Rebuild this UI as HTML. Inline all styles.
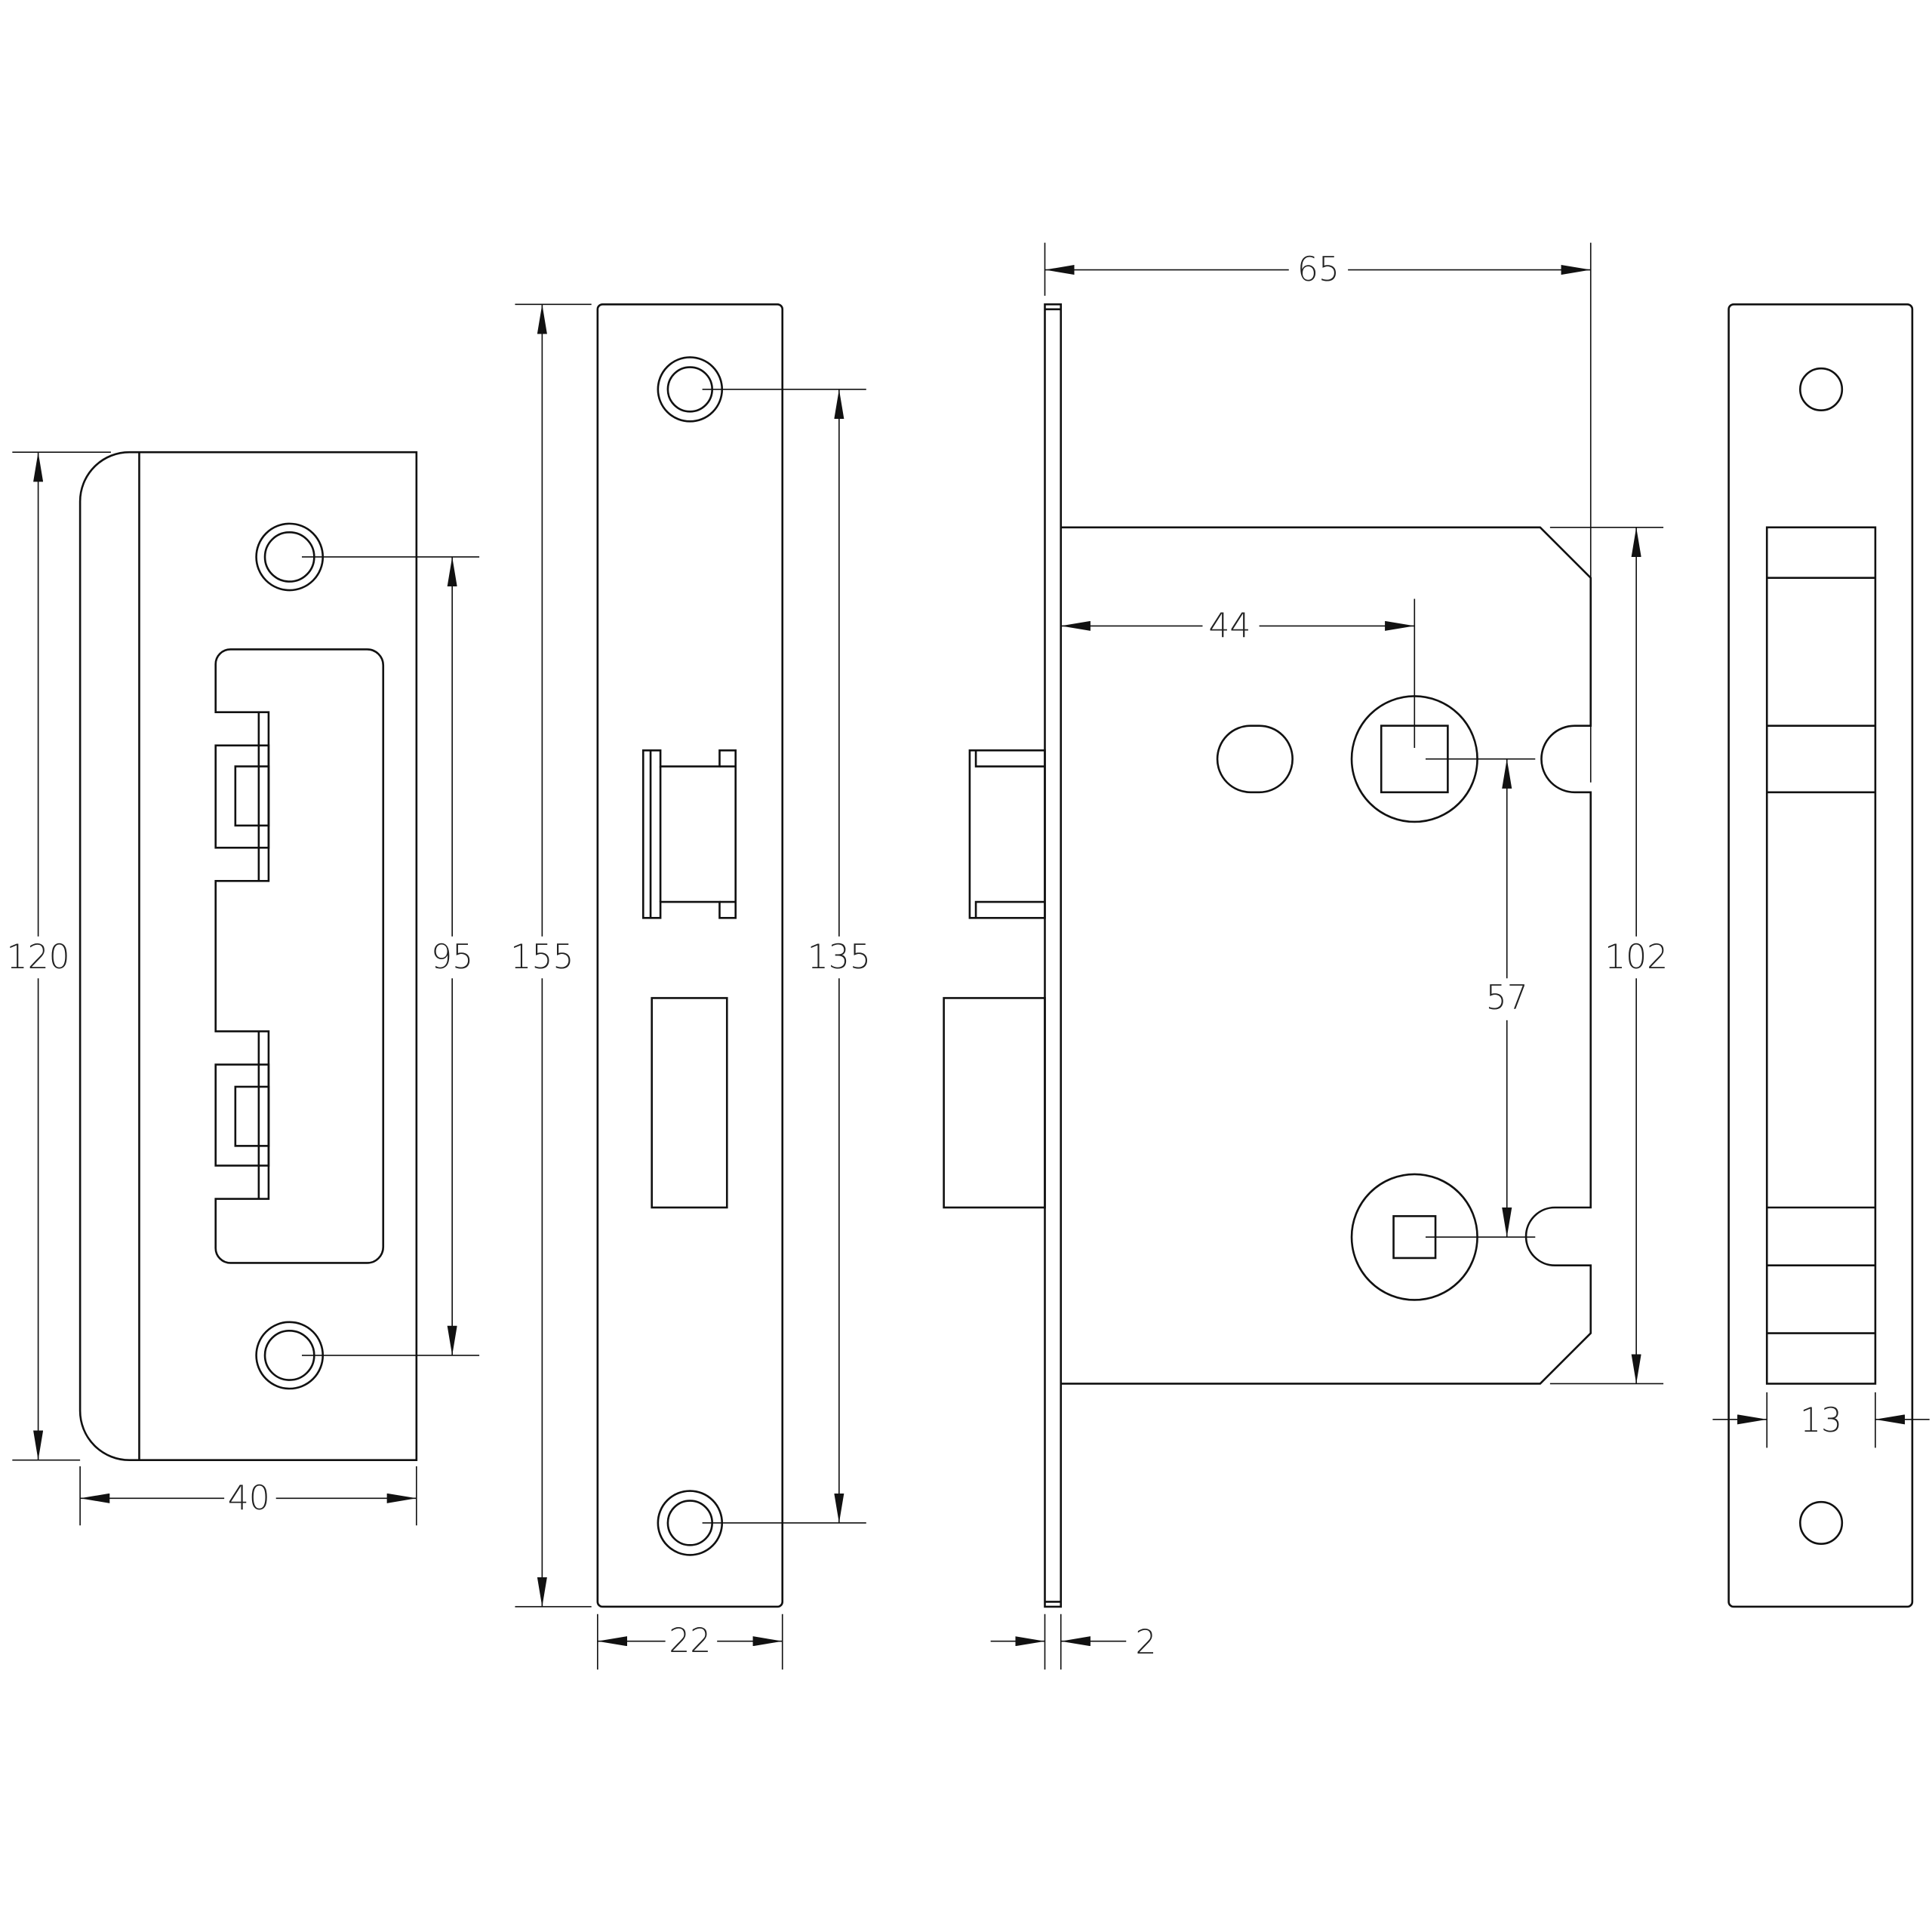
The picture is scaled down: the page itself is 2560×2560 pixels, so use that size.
<!DOCTYPE html>
<html><head><meta charset="utf-8"><style>
html,body{margin:0;padding:0;background:#fff}
svg{display:block}
text{font-family:"DejaVu Sans","Liberation Sans",sans-serif;font-weight:300;font-size:27px;fill:#222;text-anchor:middle;dominant-baseline:central}
</style></head><body>
<svg width="2560" height="2560" viewBox="0 0 1568 1568" xmlns="http://www.w3.org/2000/svg">
<defs>
<marker id="a" viewBox="0 0 24 8" refX="24" refY="4" markerWidth="24" markerHeight="8" markerUnits="userSpaceOnUse" orient="auto-start-reverse"><path d="M0,0 L24,4 L0,8 Z" fill="#111"/></marker>
</defs>
<rect width="1568" height="1568" fill="#fff"/>
<g fill="none" stroke="#111" stroke-width="1.6">
<!-- Strike plate -->
<path d="M105,367 H338 V1185 H105 A40,40 0 0 1 65,1145 V407 A40,40 0 0 1 105,367 Z"/>
<line x1="113" y1="367" x2="113" y2="1185"/>
<circle cx="235" cy="452" r="27"/><circle cx="235" cy="452" r="20"/>
<circle cx="235" cy="1100" r="27"/><circle cx="235" cy="1100" r="20"/>
<path d="M187,527 H298 A13,13 0 0 1 311,540 V1012 A13,13 0 0 1 298,1025 H187 A12,12 0 0 1 175,1013 V973 H218 V837 H175 V715 H218 V578 H175 V539 A12,12 0 0 1 187,527 Z"/>
<line x1="210" y1="578" x2="210" y2="715"/><line x1="210" y1="837" x2="210" y2="973"/>
<rect x="175" y="605" width="43" height="83"/>
<rect x="191" y="622" width="27" height="48"/>
<rect x="175" y="864" width="43" height="82"/>
<rect x="191" y="882" width="27" height="48"/>
<!-- Faceplate -->
<rect x="485" y="247" width="150" height="1057" rx="4"/>
<circle cx="560" cy="316" r="26"/><circle cx="560" cy="316" r="18"/>
<circle cx="560" cy="1236" r="26"/><circle cx="560" cy="1236" r="18"/>
<path d="M522,609 H536 V622 H584 V609 H597 V745 H584 V732 H536 V745 H522 Z"/>
<path d="M584,622 H597 M584,732 H597"/>
<line x1="528" y1="609" x2="528" y2="745"/>
<line x1="536" y1="622" x2="536" y2="732"/>
<rect x="529" y="810" width="61" height="170"/>
<!-- Lock body -->
<rect x="848" y="247" width="13" height="1057"/>
<line x1="848" y1="251" x2="861" y2="251"/><line x1="848" y1="1300" x2="861" y2="1300"/>
<path d="M861,428 H1250 L1291,469 V589 H1278 A27,27 0 0 0 1278,643 H1291 V980 H1262 A23,23 0 0 0 1262,1027 H1291 V1082 L1250,1123 H861"/>
<rect x="787" y="609" width="61" height="136"/>
<path d="M792,609 V622 H848 M792,745 V732 H848"/>
<rect x="766" y="810" width="82" height="170"/>
<rect x="988" y="589" width="61" height="54" rx="27"/>
<circle cx="1148" cy="616" r="51"/><rect x="1121" y="589" width="54" height="54"/>
<circle cx="1148" cy="1004" r="51"/><rect x="1131" y="987" width="34" height="34"/>
<!-- Right faceplate -->
<rect x="1403" y="247" width="149" height="1057" rx="4"/>
<circle cx="1478" cy="316" r="17"/><circle cx="1478" cy="1236" r="17"/>
<rect x="1434" y="428" width="88" height="695"/>
<path d="M1434,469 H1522 M1434,589 H1522 M1434,643 H1522 M1434,980 H1522 M1434,1027 H1522 M1434,1082 H1522"/>
</g>
<!-- Dimensions -->
<g fill="none" stroke="#111" stroke-width="1">
<path d="M10,367 H90 M10,1185 H65 M65,1190 V1238 M338,1190 V1238"/>
<line x1="31" y1="367" x2="31" y2="1185" marker-start="url(#a)" marker-end="url(#a)"/>
<line x1="65" y1="1216" x2="338" y2="1216" marker-start="url(#a)" marker-end="url(#a)"/>
<path d="M245,452 H389 M245,1100 H389"/>
<line x1="367" y1="452" x2="367" y2="1100" marker-start="url(#a)" marker-end="url(#a)"/>
<path d="M418,247 H480 M418,1304 H480 M485,1310 V1355 M635,1310 V1355"/>
<line x1="440" y1="247" x2="440" y2="1304" marker-start="url(#a)" marker-end="url(#a)"/>
<line x1="485" y1="1332" x2="635" y2="1332" marker-start="url(#a)" marker-end="url(#a)"/>
<path d="M570,316 H703 M570,1236 H703"/>
<line x1="681" y1="316" x2="681" y2="1236" marker-start="url(#a)" marker-end="url(#a)"/>
<path d="M848,197 V240 M1291,197 V635"/>
<line x1="848" y1="219" x2="1291" y2="219" marker-start="url(#a)" marker-end="url(#a)"/>
<line x1="861" y1="508" x2="1148" y2="508" marker-start="url(#a)" marker-end="url(#a)"/>
<path d="M1148,486 V607 M1157,616 H1246 M1157,1004 H1246"/>
<line x1="1223" y1="616" x2="1223" y2="1004" marker-start="url(#a)" marker-end="url(#a)"/>
<path d="M1258,428 H1350 M1258,1123 H1350"/>
<line x1="1328" y1="428" x2="1328" y2="1123" marker-start="url(#a)" marker-end="url(#a)"/>
<path d="M848,1310 V1355 M861,1310 V1355"/>
<line x1="804" y1="1332" x2="848" y2="1332" marker-end="url(#a)"/>
<line x1="914" y1="1332" x2="861" y2="1332" marker-end="url(#a)"/>
<path d="M1434,1130 V1175 M1522,1130 V1175"/>
<line x1="1390" y1="1152" x2="1434" y2="1152" marker-end="url(#a)"/>
<line x1="1566" y1="1152" x2="1522" y2="1152" marker-end="url(#a)"/>
</g>
<g fill="#fff">
<rect x="8" y="760" width="48" height="34"/><rect x="182" y="1200" width="42" height="32"/>
<rect x="348" y="760" width="38" height="34"/><rect x="416" y="760" width="48" height="34"/>
<rect x="540" y="1316" width="42" height="32"/><rect x="657" y="760" width="48" height="34"/>
<rect x="1046" y="203" width="48" height="32"/><rect x="976" y="492" width="46" height="32"/>
<rect x="1204" y="794" width="38" height="34"/><rect x="1304" y="760" width="48" height="34"/>
</g>
<text x="31" y="777">120</text><text x="202" y="1216">40</text>
<text x="367" y="777">95</text><text x="440" y="777">155</text>
<text x="560" y="1332">22</text><text x="681" y="777">135</text>
<text x="1070" y="219">65</text><text x="998" y="508">44</text>
<text x="1223" y="810">57</text><text x="1328" y="777">102</text>
<text x="930" y="1333">2</text><text x="1478" y="1153">13</text>
</svg>
</body></html>
